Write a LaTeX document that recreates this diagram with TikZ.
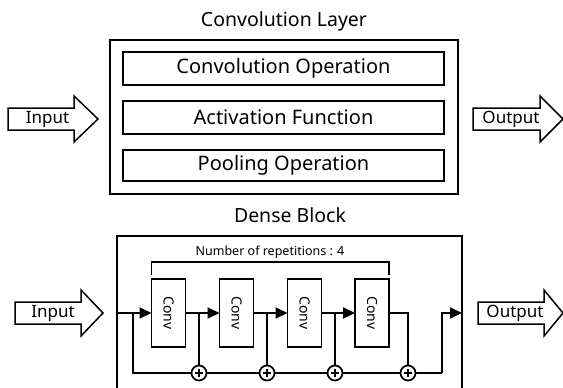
\documentclass[tikz,border=0pt]{standalone}
\usepackage{fontspec}
\setmainfont{Noto Sans}
\usetikzlibrary{arrows.meta,calc}

% hollow block arrow: #1 left x, #2 head base x, #3 tip x, #4 centre y
\newcommand\hollowarrow[4]{%
  \draw[arrowline] (#1,{#4-11}) -- (#2,{#4-11}) -- (#2,{#4-23}) -- (#3,#4)
    -- (#2,{#4+23}) -- (#2,{#4+11}) -- (#1,{#4+11}) -- cycle;}

\tikzset{
  arrowline/.style={draw=black, line width=1.5pt, fill=white, line join=miter},
  arrowtext/.style={font=\fontsize{17}{20}\selectfont, inner sep=0pt},
  title/.style={font=\fontsize{19.5}{22}\selectfont, inner sep=0pt},
  frame/.style={draw, line width=1.8pt, inner sep=0pt, outer sep=0pt},
  stage/.style={draw, line width=1.7pt, inner sep=0pt, outer sep=0pt,
    minimum width=321pt, minimum height=33pt,
    font=\fontsize{20}{22}\selectfont},
  conv/.style={draw, line width=1.8pt, inner sep=0pt, outer sep=0pt,
    minimum width=34pt, minimum height=68pt},
  convtext/.style={font=\fontsize{14}{16}\selectfont, rotate=-90, inner sep=0pt},
  flow/.style={line width=2pt},
  flowtip/.style={flow, -{Triangle[length=12pt,width=11pt]}},
  adder/.style={circle, draw, fill=white, line width=1.7pt, minimum size=15pt,
    inner sep=0pt, outer sep=0pt,
    path picture={\draw[line width=1.8pt]
      ([xshift=-4pt]path picture bounding box.center) --
      ([xshift=4pt]path picture bounding box.center)
      ([yshift=-4pt]path picture bounding box.center) --
      ([yshift=4pt]path picture bounding box.center);}},
}

\begin{document}
\begin{tikzpicture}[x=1pt,y=-1pt]
\useasboundingbox (0,0) rectangle (563,388);
\clip (0,0) rectangle (563,388);

% ---------- convolution layer ----------
\node[title] (convTitle) at (284,21) {Convolution Layer};
\node[frame, minimum width=348pt, minimum height=154pt] (convLayer) at (284,117) {};
\node[stage] (opConv) at (283.5,68.5) {Convolution Operation};
\node[stage] (opAct)  at (283.5,117.5) {Activation Function};
\node[stage, minimum height=31pt] (opPool) at (283.5,165.5) {Pooling Operation};

\hollowarrow{8}{74}{98}{119}
\node[arrowtext] (inTop) at (47.5,119) {Input};
\hollowarrow{473}{540}{563}{119}
\node[arrowtext] (outTop) at (511,119) {Output};

% ---------- dense block ----------
\node[title] (denseTitle) at (290,215) {Dense Block};
\node[frame, minimum width=345pt, minimum height=170pt] (denseBlock) at (289.5,321) {};

\foreach \i/\x in {1/168.5,2/236.5,3/304.5,4/372}{
  \node[conv] (c\i) at (\x,313) {};
  \node[convtext] (t\i) at (c\i.center) {Conv};
}
\foreach \i/\x in {1/199,2/267,3/335,4/408}{
  \node[adder] (s\i) at (\x,373) {};
}

% repetition bracket
\draw[line width=1.2pt] ($(c1.north west)+(0,-4)$) -- ($(c1.north west)+(0,-17)$)
  -| ($(c4.north east)+(0,-4)$);
\node[font=\fontsize{12.5}{14}\selectfont, inner sep=0pt] (reps) at (270,252)
  {Number of repetitions : 4};

% main path
\coordinate (entry) at (denseBlock.west |- c1.west);
\coordinate (split) at (133,313);
\coordinate (rise)  at (442,373);
\coordinate (exit)  at (denseBlock.east |- c1.east);

\draw[flowtip] (entry) -- (c1.west);
\draw[flowtip] (c1.east) -- (c2.west);
\draw[flowtip] (c2.east) -- (c3.west);
\draw[flowtip] (c3.east) -- (c4.west);
\draw[flow] (c4.east) -| (s4.north);

% skip connections into the adders
\draw[flow] (split) |- (s1.west);
\draw[flow] (c1.east -| s1.north) -- (s1.north);
\draw[flow] (c2.east -| s2.north) -- (s2.north);
\draw[flow] (c3.east -| s3.north) -- (s3.north);
\draw[flow] (s1.east) -- (s2.west);
\draw[flow] (s2.east) -- (s3.west);
\draw[flow] (s3.east) -- (s4.west);
\draw[flow] (s4.east) -- (rise);
\draw[flowtip] (rise) |- (exit);

\hollowarrow{15}{81}{103}{313}
\node[arrowtext] (inBottom) at (53,313) {Input};
\hollowarrow{478}{544}{563}{313}
\node[arrowtext] (outBottom) at (515,313) {Output};
\end{tikzpicture}
\end{document}
